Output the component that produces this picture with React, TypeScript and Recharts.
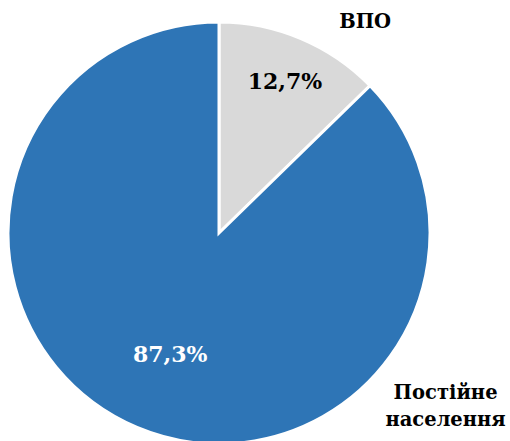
import { PieChart, Pie, Cell } from "recharts";

const categories = ["ВПО", "Постійне населення"];
const shares = [12.7, 87.3];
const shareLabels = ["12,7%", "87,3%"];

const colors = ["#D9D9D9", "#2E75B6"];
const innerText = ["#000000", "#FFFFFF"];
const innerFactor = [0.78, 0.62];
// outside category labels: angle (deg) and distance factor from centre
const outerAngle = [55.4, -37.3];
const outerFactor = [1.22, 1.35];

const FONT = "'DejaVu Serif', serif";

const data = categories.map((name, i) => ({ name, value: shares[i] }));

const RAD = Math.PI / 180;

const renderLabel = (props: any) => {
  const { cx, cy, midAngle, outerRadius, index } = props;
  const ri = outerRadius * innerFactor[index];
  const ix = cx + ri * Math.cos(-midAngle * RAD);
  const iy = cy + ri * Math.sin(-midAngle * RAD);
  const ro = outerRadius * outerFactor[index];
  const ox = cx + ro * Math.cos(-outerAngle[index] * RAD);
  const oy = cy + ro * Math.sin(-outerAngle[index] * RAD);
  const words = categories[index].split(" ");
  const txt = { fontFamily: FONT, fontWeight: 700 };
  return (
    <g>
      <text
        x={ix + 2}
        y={iy}
        fill={innerText[index]}
        style={{ ...txt, fontSize: 22 }}
        textAnchor="middle"
        dominantBaseline="central"
      >
        {shareLabels[index]}
      </text>
      <text
        x={ox}
        y={oy - (words.length - 1) * 13.5}
        fill="#000"
        style={{ ...txt, fontSize: 19.5 }}
        textAnchor="middle"
        dominantBaseline="central"
      >
        {words.map((w, k) => (
          <tspan key={k} x={ox} dy={k === 0 ? 0 : 27}>
            {w}
          </tspan>
        ))}
      </text>
    </g>
  );
};

export default function App() {
  return (
    <div style={{ position: "absolute", top: 0, left: 0, background: "#fff" }}>
      <PieChart
        width={510}
        height={441}
        margin={{ top: 0, right: 0, bottom: 0, left: 0 }}
      >
        <Pie
          data={data}
          dataKey="value"
          nameKey="name"
          cx={219}
          cy={233}
          outerRadius={211}
          startAngle={90}
          endAngle={-270}
          stroke="#FFFFFF"
          strokeWidth={3}
          label={renderLabel}
          labelLine={false}
          isAnimationActive={false}
        >
          {data.map((d, i) => (
            <Cell key={d.name} fill={colors[i]} />
          ))}
        </Pie>
      </PieChart>
    </div>
  );
}
